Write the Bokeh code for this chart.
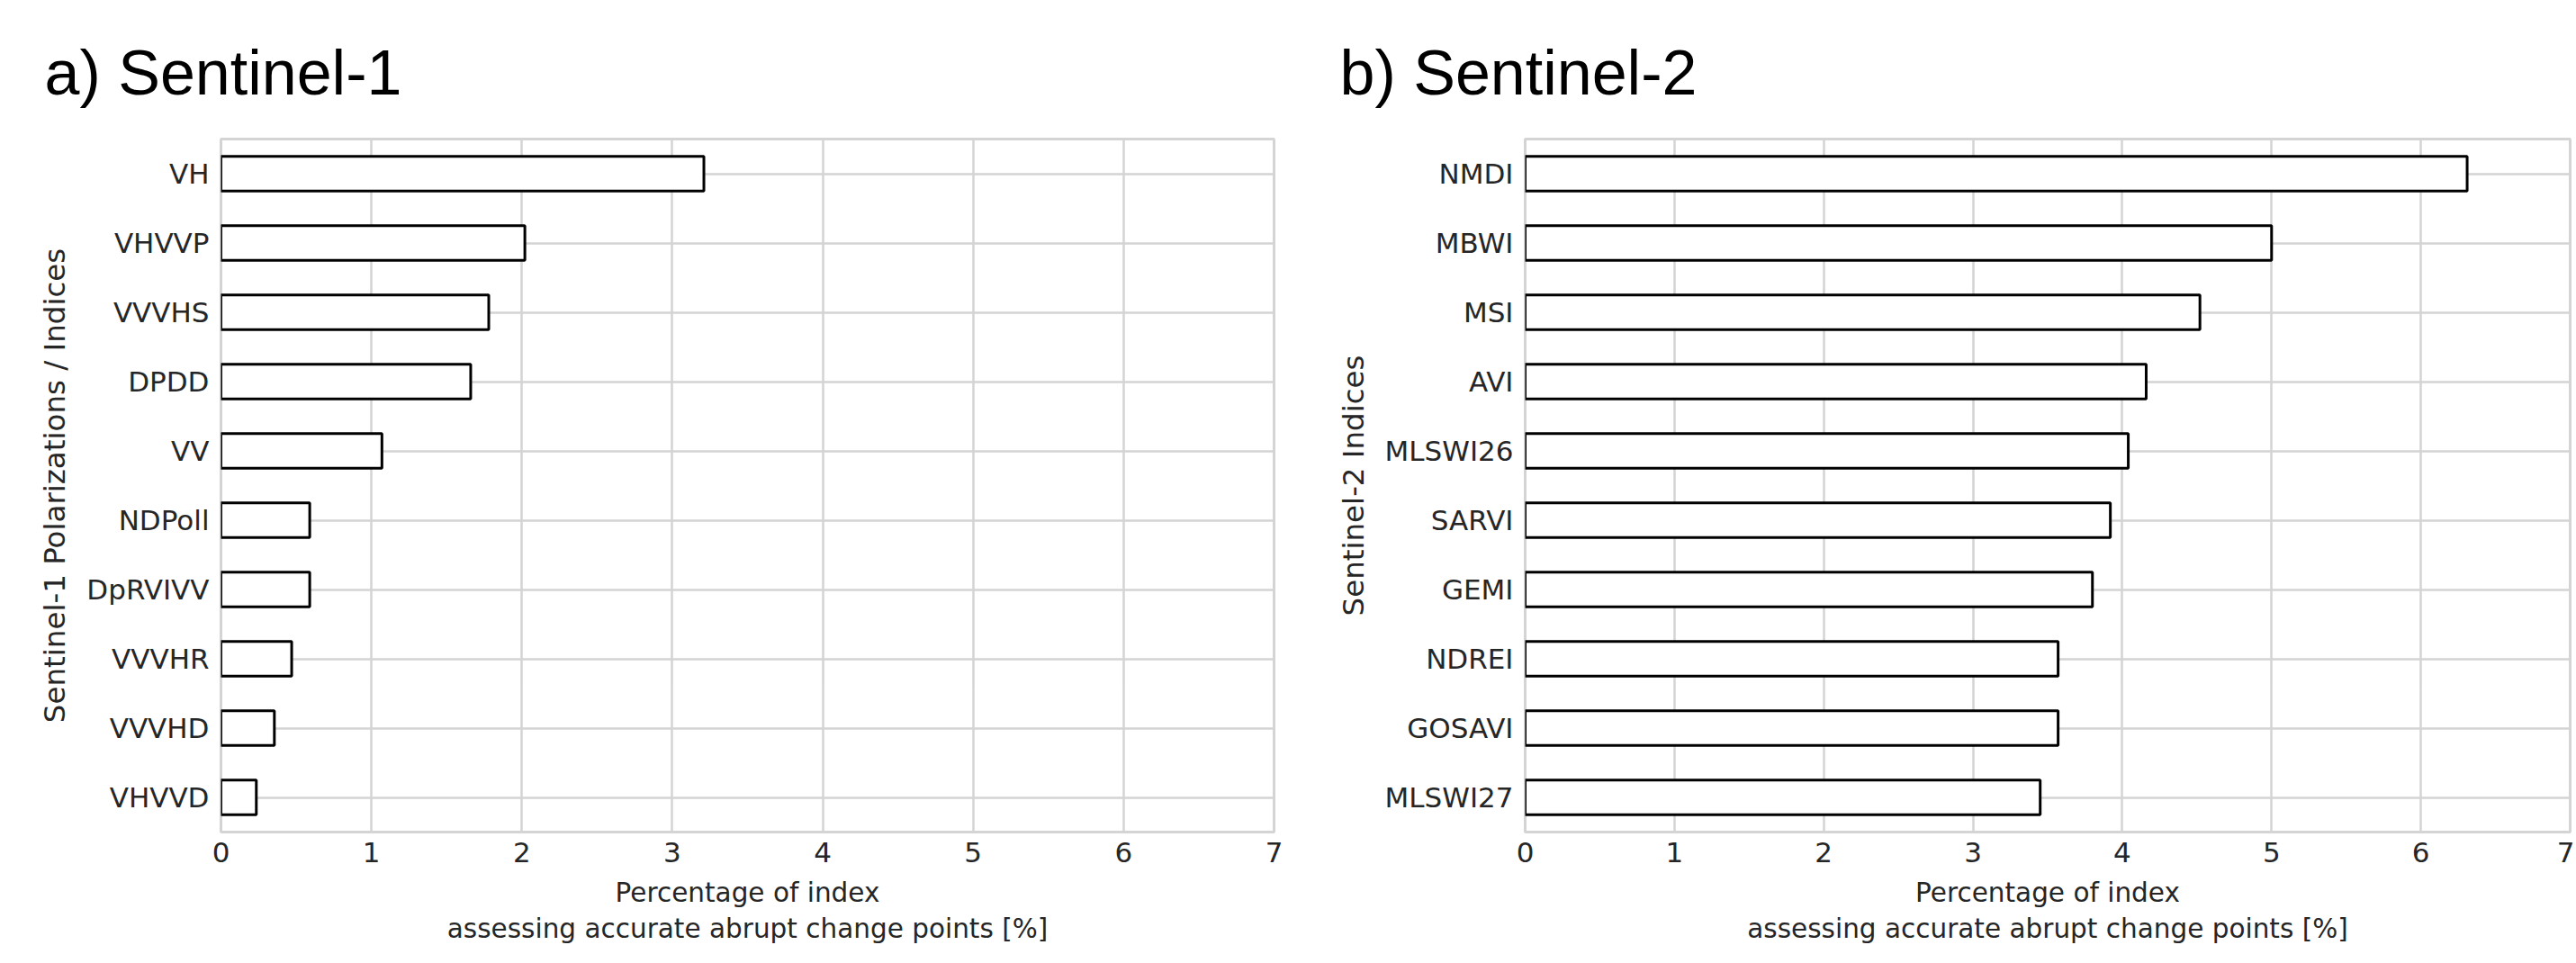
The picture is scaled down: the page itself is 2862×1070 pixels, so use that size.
from bokeh.plotting import figure
from bokeh.models import FactorRange, Range1d, FixedTicker
from bokeh.layouts import row
from bokeh.embed import file_html
from bokeh.resources import INLINE

# ---- data ----
s1_labels = ["VH", "VHVVP", "VVVHS", "DPDD", "VV", "NDPoll", "DpRVIVV", "VVVHR", "VVVHD", "VHVVD"]
s1_values = [3.21, 2.02, 1.78, 1.66, 1.07, 0.59, 0.59, 0.47, 0.355, 0.235]

s2_labels = ["NMDI", "MBWI", "MSI", "AVI", "MLSWI26", "SARVI", "GEMI", "NDREI", "GOSAVI", "MLSWI27"]
s2_values = [6.31, 5.00, 4.52, 4.16, 4.04, 3.92, 3.80, 3.57, 3.57, 3.45]

x_ticks = [0, 1, 2, 3, 4, 5, 6, 7]

titles = ["a) Sentinel-1", "b) Sentinel-2"]
y_titles = ["Sentinel-1 Polarizations / Indices", "Sentinel-2 Indices"]
x_title = "Percentage of index\nassessing accurate abrupt change points [%]"

GRID = "#d4d4d4"
TICK_FONT = "DejaVu Sans"


def make_panel(labels, values, title, ytitle, width, bl, br, toff, ystandoff):
    p = figure(
        width=width, height=1068,
        y_range=FactorRange(factors=labels[::-1]),
        x_range=Range1d(0, 7),
        output_backend="svg", toolbar_location=None,
        min_border_left=bl, min_border_right=br,
        min_border_top=154, min_border_bottom=144,
        background_fill_color="white", border_fill_color="white",
    )
    p.hbar(y=labels, left=0, right=values, height=0.5,
           fill_color="white", line_color="black", line_width=3)

    p.title.text = title
    p.title.text_font = "Liberation Sans"
    p.title.text_font_size = "70px"
    p.title.text_font_style = "normal"
    p.title.text_color = "black"
    p.title.align = "left"
    p.title.offset = toff
    p.title.standoff = 70

    p.xaxis.ticker = FixedTicker(ticks=x_ticks)
    p.axis.axis_line_color = None
    p.axis.major_tick_line_color = None
    p.axis.minor_tick_line_color = None
    p.axis.major_tick_out = 0
    p.axis.major_tick_in = 0
    p.axis.major_label_text_font = TICK_FONT
    p.axis.major_label_text_font_size = "31px"
    p.axis.major_label_text_color = "#262626"
    p.yaxis.major_label_standoff = 13
    p.xaxis.major_label_standoff = 11

    p.xaxis.axis_label = x_title
    p.yaxis.axis_label = ytitle
    p.axis.axis_label_text_font = "DejaVu Sans"
    p.axis.axis_label_text_font_style = "normal"
    p.axis.axis_label_text_color = "#262626"
    p.xaxis.axis_label_text_font_size = "29.5px"
    p.yaxis.axis_label_text_font_size = "32.5px"
    p.xaxis.axis_label_standoff = 14
    p.yaxis.axis_label_standoff = ystandoff

    p.xgrid.grid_line_color = GRID
    p.xgrid.grid_line_width = 2.5
    p.ygrid.grid_line_color = GRID
    p.ygrid.grid_line_width = 2.5
    p.outline_line_color = GRID
    p.outline_line_width = 3
    return p


p1 = make_panel(s1_labels, s1_values, titles[0], y_titles[0], 1468, 245, 53, -196, 13)
p2 = make_panel(s2_labels, s2_values, titles[1], y_titles[1], 1392, 226, 5, -206, 13)

layout = row(p1, p2)
open("out.html", "w").write(file_html(layout, INLINE))
